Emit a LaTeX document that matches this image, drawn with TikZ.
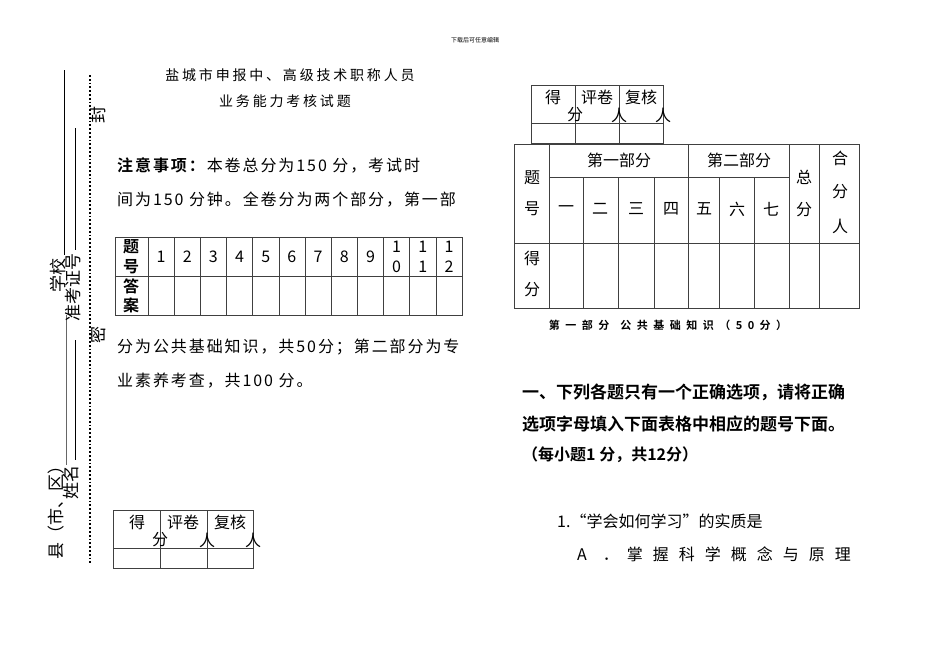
\documentclass[tikz,border=0pt]{standalone}
\usepackage{fontspec}
\newfontfamily\cjk{Noto Sans CJK SC}[BoldFont={Noto Sans CJK SC Bold}]
\newfontfamily\cjks{Noto Sans CJK SC}[BoldFont={Noto Sans CJK SC Bold},LetterSpace=12]
\newfontfamily\cjkt{Noto Sans CJK SC}[LetterSpace=20]
\newfontfamily\cjkc{Noto Sans CJK SC}[BoldFont={Noto Sans CJK SC Bold},LetterSpace=50]
\begin{document}
\begin{tikzpicture}[x=1pt,y=-1pt,
  tx/.style={inner sep=0pt,font=\cjk\fontsize{16}{16}\selectfont},
  bodyt/.style={inner sep=0pt,font=\cjks\fontsize{16}{16}\selectfont},
  sm/.style={inner sep=0pt,font=\cjkt\fontsize{14}{14}\selectfont},
  mg/.style={inner sep=0pt,font=\cjk\fontsize{17}{17}\selectfont},
  bd/.style={inner sep=0pt,font=\cjk\bfseries\fontsize{16}{16}\selectfont},
  grid/.style={draw=black!75,line width=0.6pt}]
\useasboundingbox[fill=white] (0,0) rectangle (950,659);
\node[inner sep=0pt,font=\cjk\fontsize{6}{6}\selectfont] (hdr) at (475,40) {下载后可任意编辑};
% left margin
\draw[line width=0.6pt] (64,70) -- (64,255);
\draw[line width=0.6pt] (75,128) -- (75,250);
\draw[line width=0.6pt,black!60] (66,315) -- (66,465);
\draw[line width=0.6pt] (75,340) -- (75,460);
\draw[line width=1.8pt,dotted] (90,75) -- (90,565);
\node[mg,rotate=90] (xian) at (56,508) {县（市、区）};
\node[mg,rotate=90] (xm) at (71,482) {姓名};
\node[mg,rotate=90] (xx) at (58,275) {学校};
\node[mg,rotate=90] (zk) at (73,287) {准考证号};
\node[mg,rotate=90] (feng) at (98,115) {封};
\node[mg,rotate=90] (mi) at (98,335) {密};
% title
\node[sm] (t1) at (290,75) {盐城市申报中、高级技术职称人员};
\node[sm] (t2) at (285,101) {业务能力考核试题};
\node[bodyt,anchor=west] (n1) at (117,165) {\textbf{注意事项：}本卷总分为150 分，考试时};
\node[bodyt,anchor=west] (n2) at (117,200) {间为150 分钟。全卷分为两个部分，第一部};
% answer table
\draw[grid] (115,237) rectangle (462,315);
\draw[grid] (115,276) -- (462,276);
\foreach \i in {0,...,11} \draw[grid] ({148+\i*26.17},237) -- ({148+\i*26.17},315);
\node[bd] (th1) at (131,247) {题}; \node[bd] (th2) at (131,267) {号};
\node[bd] (da1) at (131,286) {答}; \node[bd] (da2) at (131,305) {案};
\foreach \n [count=\i] in {1,...,9} \node[tx] (q\i) at ({148+(\i-0.5)*26.17},257) {\n};
\foreach \a/\b [count=\i from 10] in {1/0,1/1,1/2} {
  \node[tx] (qa\i) at ({148+(\i-0.5)*26.17},247) {\a};
  \node[tx] (qb\i) at ({148+(\i-0.5)*26.17},267) {\b};}
\node[bodyt,anchor=west] (n3) at (117,347) {分为公共基础知识，共50分；第二部分为专};
\node[bodyt,anchor=west] (n4) at (117,381) {业素养考查，共100 分。};
% bottom-left small table
\draw[grid] (113,510) rectangle (253,568);
\draw[grid] (113,548) -- (253,548);
\draw[grid] (160,510) -- (160,568); \draw[grid] (207,510) -- (207,568);
\node[tx] (a1) at (137,522) {得}; \node[tx] (a2) at (183,522) {评卷}; \node[tx] (a3) at (230,522) {复核};
\node[tx] (a4) at (160,540) {分}; \node[tx] (a5) at (207,540) {人}; \node[tx] (a6) at (253,540) {人};
% top-right small table
\draw[grid] (531,85) rectangle (663,143);
\draw[grid] (531,123) -- (663,123);
\draw[grid] (575,85) -- (575,143); \draw[grid] (619,85) -- (619,143);
\node[tx] (b1) at (553,97) {得}; \node[tx] (b2) at (597,97) {评卷}; \node[tx] (b3) at (641,97) {复核};
\node[tx] (b4) at (575,115) {分}; \node[tx] (b5) at (619,115) {人}; \node[tx] (b6) at (663,115) {人};
% big table
\draw[grid] (514,144) rectangle (859,308);
\draw[grid] (549,177) -- (789,177);
\draw[grid] (514,243) -- (859,243);
\foreach \x in {549,688,789,819} \draw[grid] (\x,144) -- (\x,308);
\foreach \x in {583,618,654,719,754} \draw[grid] (\x,177) -- (\x,308);
\node[tx] (c1) at (532,178) {题}; \node[tx] (c2) at (532,209) {号};
\node[tx] (c3) at (619,160) {第一部分}; \node[tx] (c4) at (739,160) {第二部分};
\node[tx] (d1) at (566,209) {一}; \node[tx] (d2) at (600,209) {二}; \node[tx] (d3) at (636,209) {三};
\node[tx] (d4) at (671,209) {四}; \node[tx] (d5) at (704,209) {五}; \node[tx] (d6) at (737,209) {六};
\node[tx] (d7) at (771,209) {七};
\node[tx] (e1) at (804,177) {总}; \node[tx] (e2) at (804,210) {分};
\node[tx] (f1) at (840,158) {合}; \node[tx] (f2) at (840,192) {分}; \node[tx] (f3) at (840,226) {人};
\node[tx] (g1) at (532,258) {得}; \node[tx] (g2) at (532,290) {分};
\node[inner sep=0pt,font=\cjkc\bfseries\fontsize{11}{11}\selectfont] (cap) at (668,325) {第一部分\quad 公共基础知识（50分）};
% question
\node[inner sep=0pt,font=\cjk\bfseries\fontsize{17}{17}\selectfont,anchor=west] (s1) at (522,392) {一、下列各题只有一个正确选项，请将正确};
\node[inner sep=0pt,font=\cjk\bfseries\fontsize{17}{17}\selectfont,anchor=west] (s2) at (522,424) {选项字母填入下面表格中相应的题号下面。};
\node[inner sep=0pt,font=\cjk\bfseries\fontsize{16}{16}\selectfont,anchor=west] (s3) at (522,455) {（每小题1 分，共12分）};
\node[tx,anchor=west] (s4) at (557,521) {1.“学会如何学习”的实质是};
\node[tx,anchor=west] (s5) at (577,554) {A\hspace{16pt}．\hspace{8pt}掌\hspace{10pt}握\hspace{10pt}科\hspace{10pt}学\hspace{10pt}概\hspace{10pt}念\hspace{10pt}与\hspace{10pt}原\hspace{10pt}理};
\end{tikzpicture}
\end{document}
